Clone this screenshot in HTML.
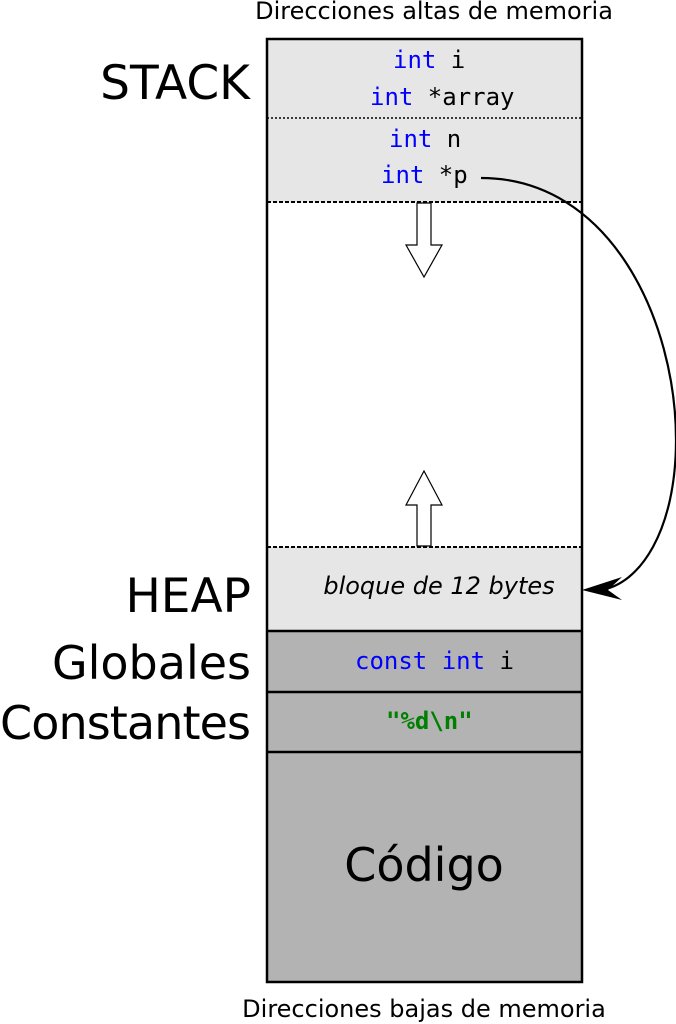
<!DOCTYPE html>
<html><head><meta charset="utf-8"><style>html,body{margin:0;padding:0;background:#fff}svg{display:block}</style></head>
<body>
<svg width="676" height="1024" viewBox="0 0 676 1024" xmlns="http://www.w3.org/2000/svg">
<rect x="267" y="39" width="315" height="163" fill="#e6e6e6"/>
<rect x="267" y="547" width="315" height="84" fill="#e6e6e6"/>
<rect x="267" y="631" width="315" height="351" fill="#b3b3b3"/>
<rect x="267" y="39" width="315" height="943" fill="none" stroke="#000" stroke-width="2.5"/>
<line x1="267" y1="118" x2="582" y2="118" stroke="#000" stroke-width="1.5" stroke-dasharray="2,2"/>
<line x1="267" y1="202" x2="582" y2="202" stroke="#000" stroke-width="2" stroke-dasharray="4,2"/>
<line x1="267" y1="547" x2="582" y2="547" stroke="#000" stroke-width="2" stroke-dasharray="4,2"/>
<line x1="267" y1="631" x2="582" y2="631" stroke="#000" stroke-width="2.5"/>
<line x1="267" y1="692" x2="582" y2="692" stroke="#000" stroke-width="2.5"/>
<line x1="267" y1="752" x2="582" y2="752" stroke="#000" stroke-width="2.5"/>
<path d="M417,203 H431 V245 H442 L424,277 L406,245 H417 Z" fill="#fff" stroke="#000" stroke-width="1.2"/>
<path d="M417,546 H431 V505 H442 L424,471 L406,505 H417 Z" fill="#fff" stroke="#000" stroke-width="1.2"/>
<path d="M481,178 C610,178 676,320 676,440 C676,530 640,585 600,590" fill="none" stroke="#000" stroke-width="2.2"/>
<path d="M582,590 L622,577 L608,590 L622,600 Z" fill="#000"/>
<g font-family="'DejaVu Sans Mono','Liberation Mono',monospace" font-size="24">
<text x="393" y="68"><tspan fill="#0000ff">int</tspan> i</text>
<text x="370" y="105"><tspan fill="#0000ff">int</tspan> *array</text>
<text x="389" y="147"><tspan fill="#0000ff">int</tspan> n</text>
<text x="381" y="183"><tspan fill="#0000ff">int</tspan> *p</text>
<text x="355" y="669"><tspan fill="#0000ff">const int</tspan> i</text>
<text x="386" y="729" fill="#008000" font-weight="bold">"%d\n"</text>
</g>
<g font-family="'DejaVu Sans','Liberation Sans',sans-serif" fill="#000">
<text x="434" y="19" font-size="24" text-anchor="middle">Direcciones altas de memoria</text>
<text x="424" y="1017" font-size="24" text-anchor="middle">Direcciones bajas de memoria</text>
<text x="439" y="594" font-size="24" font-style="italic" text-anchor="middle">bloque de 12 bytes</text>
<text x="250" y="99" font-size="47" text-anchor="end">STACK</text>
<text x="251" y="612" font-size="47" text-anchor="end">HEAP</text>
<text x="251" y="679" font-size="46" text-anchor="end">Globales</text>
<text x="251" y="739" font-size="46" text-anchor="end" textLength="251">Constantes</text>
<text x="424" y="881" font-size="46" text-anchor="middle">Código</text>
</g>
</svg>
</body></html>
